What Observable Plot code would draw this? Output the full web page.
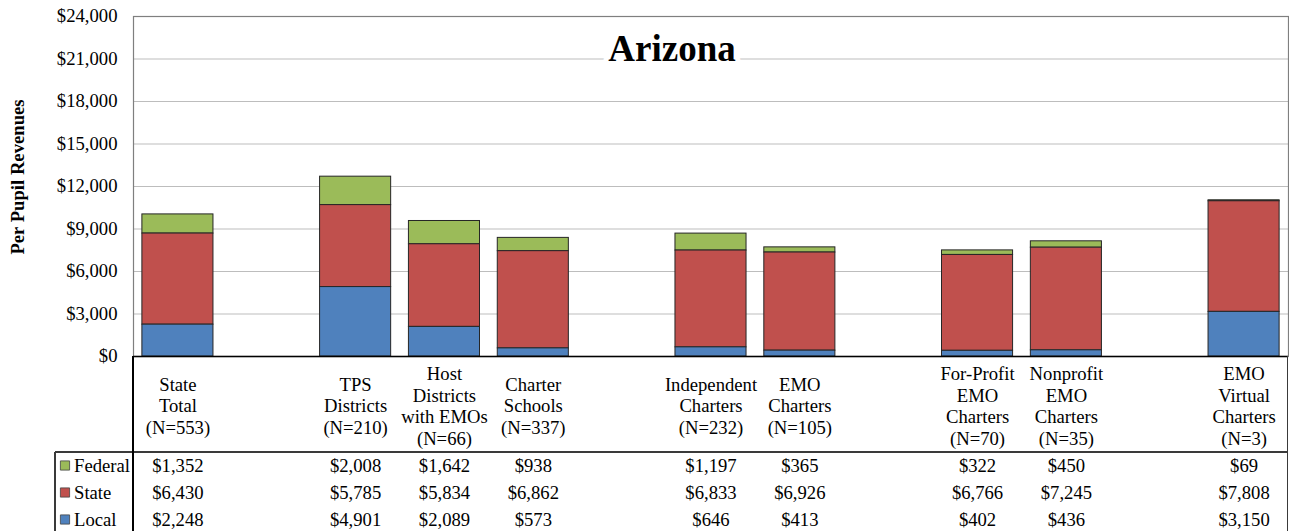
<!DOCTYPE html>
<html>
<head>
<meta charset="utf-8">
<script src="https://cdn.jsdelivr.net/npm/d3@7"></script>
<script src="https://cdn.jsdelivr.net/npm/@observablehq/plot@0.6"></script>
<style>
  html, body { margin: 0; padding: 0; background: #fff; overflow: hidden; }
  #chart { width: 1289px; height: 531px; }
  #chart svg text { font-family: "Liberation Serif", "Times New Roman", serif; }
</style>
</head>
<body>
<div id="chart"></div>
<script>
// ---- Data ----
const title = "Arizona";
const yLabel = "Per Pupil Revenues";
// slot order along the x axis (null = empty gap slot)
const slots = ["State Total", null, "TPS Districts", "Host Districts with EMOs", "Charter Schools", null,
  "Independent Charters", "EMO Charters", null, "For-Profit EMO Charters", "Nonprofit EMO Charters", null,
  "EMO Virtual Charters"];
const categories = ["State Total", "TPS Districts", "Host Districts with EMOs", "Charter Schools",
  "Independent Charters", "EMO Charters", "For-Profit EMO Charters", "Nonprofit EMO Charters", "EMO Virtual Charters"];
const categoryLabels = [
  "State\nTotal\n(N=553)",
  "TPS\nDistricts\n(N=210)",
  "Host\nDistricts\nwith EMOs\n(N=66)",
  "Charter\nSchools\n(N=337)",
  "Independent\nCharters\n(N=232)",
  "EMO\nCharters\n(N=105)",
  "For-Profit\nEMO\nCharters\n(N=70)",
  "Nonprofit\nEMO\nCharters\n(N=35)",
  "EMO\nVirtual\nCharters\n(N=3)"
];
const federal = [1352, 2008, 1642, 938, 1197, 365, 322, 450, 69];
const state   = [6430, 5785, 5834, 6862, 6833, 6926, 6766, 7245, 7808];
const local   = [2248, 4901, 2089, 573, 646, 413, 402, 436, 3150];
const seriesNames = ["Federal", "State", "Local"];
const seriesColors = ["#9BBB59", "#C0504D", "#4F81BD"];
const yTicks = [0, 3000, 6000, 9000, 12000, 15000, 18000, 21000, 24000];

// ---- Build table ----
const xDomain = slots.map((s, i) => s ?? `gap${i}`);
const seriesValues = {Federal: federal, State: state, Local: local};
const rows = [];
categories.forEach((c, i) => {
  seriesNames.forEach(s => rows.push({cat: c, series: s, value: seriesValues[s][i]}));
});
const money = v => "$" + d3.format(",")(v);

const FONT = "Liberation Serif";
const FS = 18.67;

const tableMarks = seriesNames.map((s, k) =>
  Plot.text(rows.filter(r => r.series === s), {
    x: "cat", text: d => money(d.value), frameAnchor: "bottom", lineAnchor: "middle", dy: 110 + 27 * k,
    fontSize: FS, fontFamily: FONT, fill: "#000"
  })
);
const legendMarks = seriesNames.flatMap((s, k) => [
  Plot.dot([s], {frameAnchor: "bottom-left", dx: -68.5, dy: 109 + 27 * k, symbol: "square", r: 5.2,
    fill: d => d, stroke: "#444", strokeWidth: 0.8}),
  Plot.text([s], {frameAnchor: "bottom-left", dx: -59.5, dy: 110 + 27 * k, textAnchor: "start", lineAnchor: "middle",
    fontSize: FS, fontFamily: FONT, fill: "#000"})
]);

const plot = Plot.plot({
  width: 1289,
  height: 531,
  marginLeft: 133,
  marginRight: 1,
  marginTop: 16,
  marginBottom: 175,
  style: {fontFamily: FONT, fontSize: FS + "px", color: "#000", background: "#fff"},
  x: {domain: xDomain, paddingInner: 0.2, paddingOuter: 0.1, round: false, axis: null},
  y: {domain: [0, 24000], axis: null},
  color: {domain: seriesNames, range: seriesColors},
  marks: [
    Plot.gridY(yTicks, {stroke: "#bdbdbd", strokeOpacity: 1, strokeWidth: 1.2}),
    Plot.frame({stroke: "#7f7f7f", strokeWidth: 1.2}),
    Plot.axisY(yTicks, {tickSize: 0, tickPadding: 16, tickFormat: money, label: null, fontSize: FS, fontFamily: FONT, fill: "#000"}),
    Plot.barY(rows, {x: "cat", y: "value", fill: "series", stroke: "#262626", strokeWidth: 1,
      order: ["Local", "State", "Federal"]}),
    Plot.ruleY([0], {stroke: "#000", strokeWidth: 1.5}),
    Plot.text(categories, {x: d => d, text: (d, i) => categoryLabels[i], frameAnchor: "bottom", dy: 49,
      lineAnchor: "middle", lineHeight: 1.15, fontSize: FS, fontFamily: FONT, fill: "#000"}),
    ...tableMarks,
    ...legendMarks,
    Plot.text([title], {frameAnchor: "top", lineAnchor: "middle", dx: -39, dy: 33, fontSize: 37, fontWeight: "bold",
      fontFamily: FONT, fill: "#000", stroke: "#fff", strokeWidth: 10, paintOrder: "stroke"}),
    Plot.text([yLabel], {frameAnchor: "left", textAnchor: "middle", lineAnchor: "middle", dx: -115, dy: -9.5, rotate: -90,
      fontSize: FS, fontFamily: FONT, fontWeight: "bold", fill: "#000"})
  ]
});

// ---- Table grid lines (layout decorations) ----
const xr = plot.scale("x").range;
const y0 = plot.scale("y").apply(0);
const svg = d3.select(plot);
const g = svg.append("g").attr("stroke", "#3a3a3a").attr("stroke-width", 1.2).attr("shape-rendering", "crispEdges");
const tableTop = y0 + 96;
g.append("line").attr("x1", 55).attr("x2", xr[1]).attr("y1", tableTop).attr("y2", tableTop);
g.append("line").attr("x1", 55).attr("x2", 55).attr("y1", tableTop).attr("y2", 531);
g.append("line").attr("x1", xr[0]).attr("x2", xr[0]).attr("y1", y0).attr("y2", 531).attr("stroke", "#000");
g.append("line").attr("x1", xr[1] - 0.5).attr("x2", xr[1] - 0.5).attr("y1", y0).attr("y2", 531);

document.getElementById("chart").appendChild(plot);
</script>
</body>
</html>
